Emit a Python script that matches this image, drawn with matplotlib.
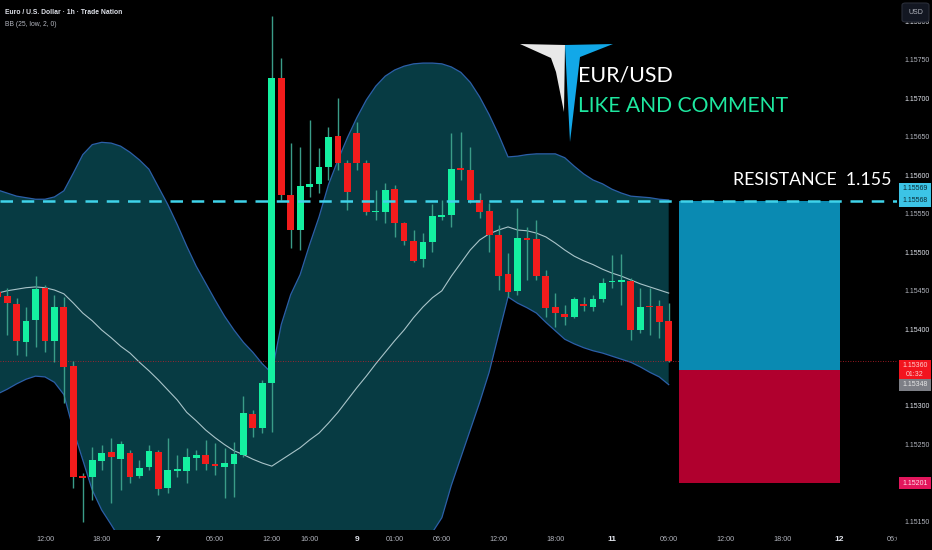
import numpy as np
import matplotlib.pyplot as plt
from matplotlib.patches import Rectangle, Polygon, FancyBboxPatch

# ---------------- EUR/USD 1h candles (oldest -> newest)
opens = [1.15449, 1.15444, 1.15434, 1.15384, 1.15413, 1.15455, 1.15386, 1.15430, 1.15353, 1.15210,
         1.15209, 1.15230, 1.15241, 1.15232, 1.15240, 1.15210, 1.15222, 1.15241, 1.15195, 1.15217,
         1.15217, 1.15234, 1.15238, 1.15226, 1.15222, 1.15226, 1.15238, 1.15291, 1.15273, 1.15331,
         1.15728, 1.15576, 1.15530, 1.15586, 1.15590, 1.15612, 1.15652, 1.15617, 1.15656, 1.15617,
         1.15553, 1.15553, 1.15583, 1.15539, 1.15516, 1.15492, 1.15514, 1.15547, 1.15550, 1.15611,
         1.15608, 1.15569, 1.15555, 1.15524, 1.15473, 1.15451, 1.15520, 1.15518, 1.15470, 1.15430,
         1.15421, 1.15417, 1.15434, 1.15430, 1.15440, 1.15462, 1.15462, 1.15464, 1.15400, 1.15431,
         1.15431, 1.15412]
highs = [1.15455, 1.15455, 1.15442, 1.15430, 1.15470, 1.15459, 1.15446, 1.15443, 1.15360, 1.15214,
         1.15248, 1.15250, 1.15260, 1.15256, 1.15244, 1.15231, 1.15250, 1.15244, 1.15260, 1.15238,
         1.15247, 1.15244, 1.15257, 1.15253, 1.15247, 1.15254, 1.15314, 1.15296, 1.15335, 1.15808,
         1.15754, 1.15643, 1.15638, 1.15673, 1.15637, 1.15664, 1.15702, 1.15621, 1.15670, 1.15621,
         1.15582, 1.15591, 1.15589, 1.15541, 1.15530, 1.15526, 1.15564, 1.15569, 1.15656, 1.15657,
         1.15638, 1.15578, 1.15565, 1.15537, 1.15500, 1.15559, 1.15534, 1.15543, 1.15478, 1.15448,
         1.15433, 1.15443, 1.15443, 1.15446, 1.15468, 1.15498, 1.15499, 1.15468, 1.15455, 1.15455,
         1.15439, 1.15435]
lows = [1.15439, 1.15394, 1.15368, 1.15366, 1.15378, 1.15371, 1.15358, 1.15305, 1.15195, 1.15150,
        1.15179, 1.15218, 1.15175, 1.15192, 1.15201, 1.15208, 1.15218, 1.15186, 1.15188, 1.15209,
        1.15201, 1.15218, 1.15218, 1.15212, 1.15182, 1.15183, 1.15235, 1.15261, 1.15266, 1.15267,
        1.15569, 1.15507, 1.15504, 1.15573, 1.15578, 1.15595, 1.15608, 1.15556, 1.15608, 1.15550,
        1.15543, 1.15539, 1.15521, 1.15511, 1.15488, 1.15482, 1.15501, 1.15543, 1.15534, 1.15595,
        1.15565, 1.15546, 1.15501, 1.15452, 1.15443, 1.15446, 1.15465, 1.15465, 1.15417, 1.15404,
        1.15407, 1.15416, 1.15425, 1.15425, 1.15436, 1.15455, 1.15433, 1.15387, 1.15396, 1.15394,
        1.15390, 1.15358]
closes = [1.15443, 1.15435, 1.15386, 1.15412, 1.15453, 1.15386, 1.15430, 1.15352, 1.15209, 1.15208,
          1.15231, 1.15240, 1.15235, 1.15252, 1.15209, 1.15221, 1.15243, 1.15193, 1.15218, 1.15219,
          1.15235, 1.15238, 1.15226, 1.15223, 1.15227, 1.15239, 1.15292, 1.15273, 1.15331, 1.15728,
          1.15576, 1.15530, 1.15587, 1.15590, 1.15612, 1.15651, 1.15617, 1.15579, 1.15617, 1.15553,
          1.15555, 1.15582, 1.15539, 1.15516, 1.15490, 1.15514, 1.15548, 1.15550, 1.15609, 1.15608,
          1.15569, 1.15553, 1.15524, 1.15470, 1.15449, 1.15520, 1.15517, 1.15470, 1.15429, 1.15422,
          1.15417, 1.15440, 1.15431, 1.15440, 1.15461, 1.15464, 1.15465, 1.15400, 1.15430, 1.15430,
          1.15410, 1.15360]

# ---------------- Bollinger bands BB(25, low, 2, 0)
bb_upper = [1.15582, 1.15578, 1.15574, 1.15572, 1.15570, 1.15570, 1.15573, 1.15581, 1.15604, 1.15628,
            1.15641, 1.15644, 1.15643, 1.15639, 1.15631, 1.15621, 1.15609, 1.15586, 1.15563, 1.15537,
            1.15509, 1.15483, 1.15461, 1.15439, 1.15418, 1.15400, 1.15384, 1.15371, 1.15356, 1.15344,
            1.15407, 1.15446, 1.15472, 1.15511, 1.15547, 1.15589, 1.15621, 1.15650, 1.15676, 1.15699,
            1.15717, 1.15730, 1.15738, 1.15743, 1.15746, 1.15747, 1.15747, 1.15746, 1.15742, 1.15735,
            1.15722, 1.15703, 1.15680, 1.15654, 1.15625, 1.15626, 1.15628, 1.15629, 1.15629, 1.15629,
            1.15624, 1.15613, 1.15603, 1.15595, 1.15590, 1.15583, 1.15578, 1.15574, 1.15573, 1.15572,
            1.15570, 1.15569]
bb_mid = [1.15448, 1.15451, 1.15453, 1.15455, 1.15456, 1.15455, 1.15452, 1.15447, 1.15435, 1.15422,
          1.15412, 1.15400, 1.15390, 1.15379, 1.15370, 1.15358, 1.15347, 1.15335, 1.15322, 1.15309,
          1.15293, 1.15282, 1.15270, 1.15260, 1.15251, 1.15243, 1.15238, 1.15232, 1.15227, 1.15223,
          1.15231, 1.15239, 1.15247, 1.15257, 1.15266, 1.15279, 1.15293, 1.15309, 1.15325, 1.15340,
          1.15356, 1.15371, 1.15386, 1.15400, 1.15416, 1.15430, 1.15442, 1.15451, 1.15470, 1.15487,
          1.15504, 1.15517, 1.15525, 1.15530, 1.15534, 1.15530, 1.15529, 1.15526, 1.15521, 1.15513,
          1.15504, 1.15496, 1.15490, 1.15485, 1.15479, 1.15474, 1.15470, 1.15465, 1.15460, 1.15456,
          1.15452, 1.15448]
bb_lower = [1.15317, 1.15323, 1.15330, 1.15336, 1.15340, 1.15339, 1.15332, 1.15316, 1.15270, 1.15231,
            1.15192, 1.15166, 1.15147, 1.15127, 1.15111, 1.15095, 1.15085, 1.15084, 1.15081, 1.15081,
            1.15077, 1.15081, 1.15079, 1.15081, 1.15084, 1.15086, 1.15092, 1.15093, 1.15098, 1.15102,
            1.15055, 1.15032, 1.15022, 1.15003, 1.14985, 1.14969, 1.14965, 1.14968, 1.14974, 1.14981,
            1.14995, 1.15012, 1.15034, 1.15057, 1.15086, 1.15113, 1.15137, 1.15156, 1.15198, 1.15234,
            1.15270, 1.15306, 1.15345, 1.15394, 1.15443, 1.15435, 1.15429, 1.15422, 1.15410, 1.15399,
            1.15388, 1.15382, 1.15377, 1.15373, 1.15370, 1.15366, 1.15362, 1.15358, 1.15352, 1.15345,
            1.15339, 1.15329]

# ---------------- levels / position tool
resistance = 1.15568
target = 1.15568
entry = 1.15348
stop = 1.15201
last_price = 1.15360
box_from, box_to = 72.1, 89.1

time_ticks = [5, 11, 17, 23, 29, 33, 38, 42, 47, 53, 59, 65, 71, 77, 83, 89, 95]
time_labels = ['12:00', '18:00', '7', '06:00', '12:00', '16:00', '9', '01:00', '06:00',
               '12:00', '18:00', '11', '06:00', '12:00', '18:00', '12', '06:00']
day_labels = ['7', '9', '11', '12']
price_ticks = [1.15800, 1.15750, 1.15700, 1.15650, 1.15600, 1.15550, 1.15500,
               1.15450, 1.15400, 1.15300, 1.15250, 1.15150]

# ---------------- colours
BG = '#000000'
UP = '#14f0a0'
DOWN = '#f21c1c'
WICK = '#3a9c88'
FILL = '#073b43'
BAND = '#2c5fa8'
MID = '#a9c4c9'
TXT = '#b2b5be'
TXT_B = '#e0e3eb'
LOGO_FONT = ['Lato', 'DejaVu Sans']

ymin, ymax = 1.15140, 1.15829
W, H = 932, 550

fig = plt.figure(figsize=(W / 100, H / 100), dpi=100, facecolor=BG)
ax = fig.add_axes([0, 20 / H, 897 / W, 530 / H])
ax.set_facecolor(BG)
ax.set_xlim(0.24, 95.16)
ax.set_ylim(ymin, ymax)
for s in ax.spines.values():
    s.set_visible(False)

x = np.arange(len(opens))

# bollinger bands
ax.fill_between(x, bb_lower, bb_upper, color=FILL, lw=0, zorder=1)
ax.plot(x, bb_upper, color=BAND, lw=0.9, zorder=2)
ax.plot(x, bb_lower, color=BAND, lw=0.9, zorder=2)
ax.plot(x, bb_mid, color=MID, lw=0.8, zorder=2)

# candles
o = np.array(opens); c = np.array(closes)
up = c >= o
ax.vlines(x, lows, highs, color=WICK, lw=1.0, zorder=3)
body_h = np.maximum(np.abs(c - o), 0.000016)
ax.bar(x, body_h, bottom=np.minimum(o, c), width=0.72,
       color=np.where(up, UP, DOWN), lw=0, zorder=4)

# resistance line and label
ax.axhline(resistance, color='#3fd3ea', lw=1.8, ls=(0, (5, 3.5)), zorder=5)
ax.axhline(last_price, color='#c8202a', lw=0.6, ls=(0, (1, 2)), zorder=2)
ax.text(94.6, resistance + 0.00016, 'RESISTANCE  1.155', color='white', fontsize=12.8,
        family=LOGO_FONT, ha='right', va='bottom', zorder=6)

# position box
ax.add_patch(Rectangle((box_from, entry), box_to - box_from, target - entry,
                       fc='#0a8ab2', ec='none', zorder=3))
ax.add_patch(Rectangle((box_from, stop), box_to - box_from, entry - stop,
                       fc='#b0002e', ec='none', zorder=3))

# time axis
ax.set_yticks([])
ax.set_xticks(time_ticks)
ax.set_xticklabels(time_labels)
ax.tick_params(axis='x', length=0, pad=4.5, labelsize=5.2, labelcolor=TXT)
for lab in ax.get_xticklabels():
    lab.set_family('Liberation Sans')
    if lab.get_text() in day_labels:
        lab.set_fontweight('bold')
        lab.set_color(TXT_B)
        lab.set_fontsize(6)

# price scale
pax = fig.add_axes([897 / W, 20 / H, 35 / W, 530 / H], zorder=10)
pax.set_facecolor(BG)
pax.set_xlim(0, 1)
pax.set_ylim(ymin, ymax)
pax.axis('off')
pax.add_patch(Rectangle((0, ymin - 0.001), 1, ymax - ymin + 0.002, fc=BG, ec='none',
                        clip_on=False, zorder=0))
px_price = (ymax - ymin) / 530
for p in price_ticks:
    bold = abs(round(p * 1000) - p * 1000) < 1e-6
    pax.text(0.2, p, '%.5f' % p, color=TXT_B if bold else TXT, fontsize=5,
             family='Liberation Sans', ha='left', va='center')


def tag(yc, text, fc, tc, h=12):
    hh = h * px_price
    pax.add_patch(Rectangle((0.06, yc - hh / 2), 0.91, hh, fc=fc, ec='none', zorder=3))
    pax.text(0.51, yc, text, color=tc, fontsize=5, family='Liberation Sans',
             ha='center', va='center', zorder=4)


tag(resistance + 12 * px_price, '1.15569', '#3cc4e6', '#0a2a33')
tag(resistance, '1.15568', '#3cc4e6', '#0a2a33')
tag(last_price - 5 * px_price, '1.15360', '#f2141e', '#ffd0d0', h=11)
tag(last_price - 14 * px_price, '01:32', '#f2141e', '#ffd0d0', h=10)
tag(last_price - 24 * px_price, '%.5f' % entry, '#7d7f86', '#e6e6e6')
tag(stop, '%.5f' % stop, '#e3165c', '#ffe0ea')

# USD box
fig.patches.append(FancyBboxPatch((902 / W, 1 - 22 / H), 27 / W, 19 / H,
                                  boxstyle='round,pad=0,rounding_size=0.004',
                                  transform=fig.transFigure, fc='#131722', ec='#2a2e39',
                                  lw=0.8, zorder=20))
fig.text(915.5 / W, 1 - 12.5 / H, 'USD', color=TXT, fontsize=5, family='Liberation Sans',
         ha='center', va='center', zorder=21)

# header
fig.text(5 / W, 1 - 12 / H, 'Euro / U.S. Dollar · 1h · Trade Nation', color=TXT_B,
         fontsize=4.9, fontweight='bold', family='Liberation Sans', va='center')
fig.text(5 / W, 1 - 24 / H, 'BB (25, low, 2, 0)', color=TXT, fontsize=4.9,
         family='Liberation Sans', va='center')


# logo
def fp(pts):
    return [(a / W, 1 - b / H) for a, b in pts]


fig.patches.append(Polygon(fp([(520, 44), (565, 45), (564, 112), (556, 72), (551, 58)]),
                           closed=True, fc='#e8e8e8', ec='none', transform=fig.transFigure))
fig.patches.append(Polygon(fp([(565, 45), (613, 44), (580, 57), (570, 142)]),
                           closed=True, fc='#12a8e8', ec='none', transform=fig.transFigure))
fig.text(578 / W, 1 - 82 / H, 'EUR/USD', color='white', fontsize=15.4,
         family=LOGO_FONT, va='baseline')
fig.text(578 / W, 1 - 112 / H, 'LIKE AND COMMENT', color='#1ee8a0', fontsize=15.2,
         family=LOGO_FONT, va='baseline')

fig.savefig('out.png', dpi=100, facecolor=BG)
